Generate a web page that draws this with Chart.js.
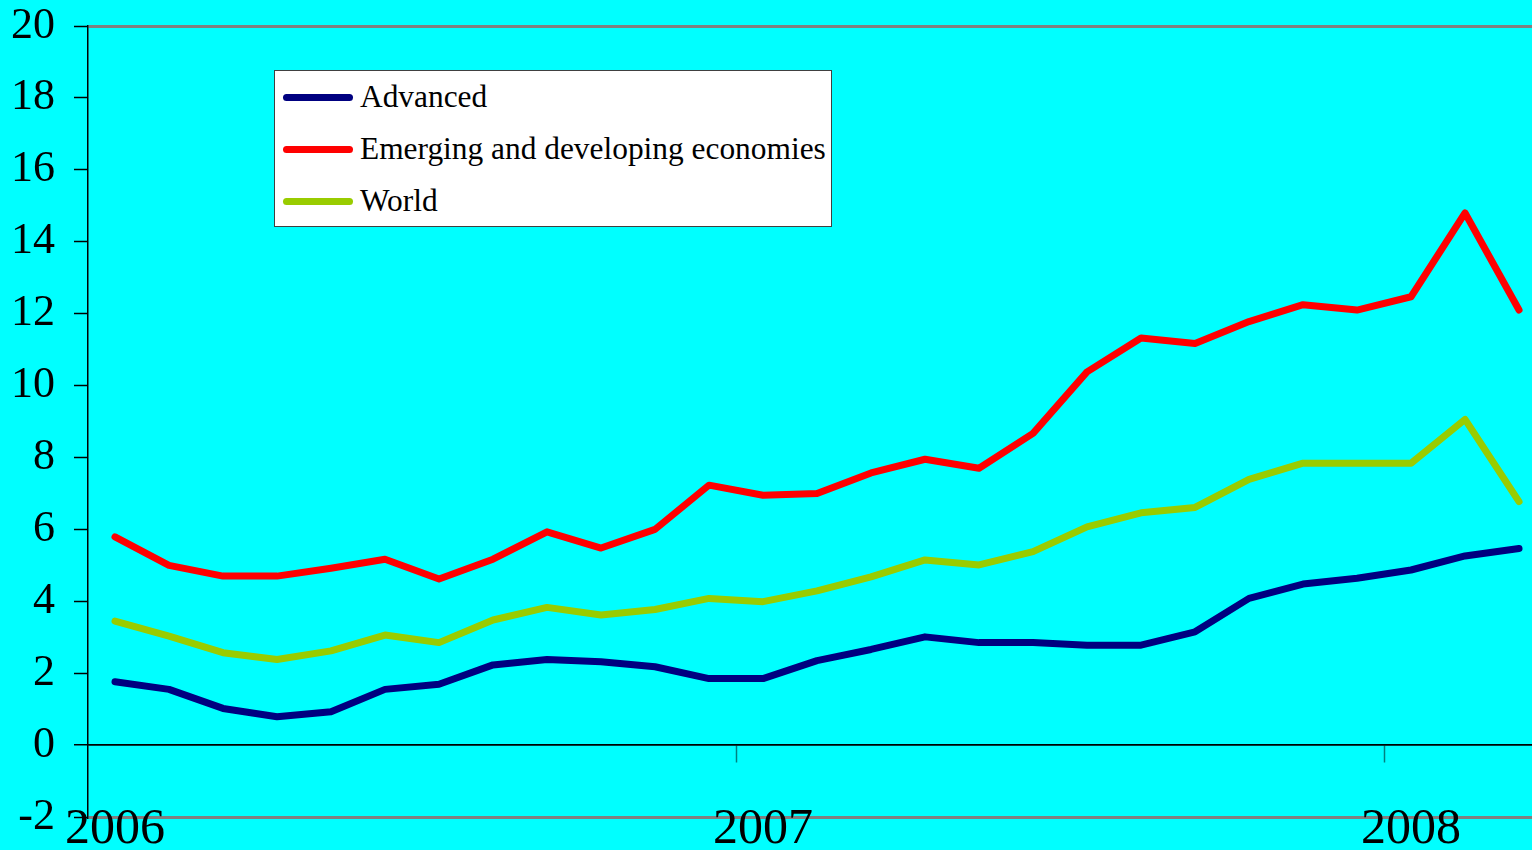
<!DOCTYPE html>
<html>
<head>
<meta charset="utf-8">
<script src="https://cdn.jsdelivr.net/npm/chart.js@4/dist/chart.umd.min.js"></script>
<style>
  html, body { margin: 0; padding: 0; background: #00FFFF; overflow: hidden; }
  #wrap { position: relative; width: 1532px; height: 850px; }
  #legend {
    position: absolute; left: 274px; top: 70px; width: 556px; height: 155px;
    background: #fff; border: 1px solid #404040;
    font-family: 'Liberation Serif', 'Times New Roman', serif; font-size: 31.4px; color: #000;
  }
  .item { position: absolute; left: 8px; height: 30px; display: flex; align-items: center; }
  .swatch { width: 70px; height: 7px; border-radius: 4px; margin-right: 7px; }
</style>
</head>
<body>
<div id="wrap">
  <canvas id="growthChart" width="1532" height="850"></canvas>
  <div id="legend"></div>
</div>
<script>
// Monthly values, Jan 2006 - Mar 2008
const months = [
  'Jan 2006', 'Feb 2006', 'Mar 2006', 'Apr 2006', 'May 2006', 'Jun 2006',
  'Jul 2006', 'Aug 2006', 'Sep 2006', 'Oct 2006', 'Nov 2006', 'Dec 2006',
  'Jan 2007', 'Feb 2007', 'Mar 2007', 'Apr 2007', 'May 2007', 'Jun 2007',
  'Jul 2007', 'Aug 2007', 'Sep 2007', 'Oct 2007', 'Nov 2007', 'Dec 2007',
  'Jan 2008', 'Feb 2008', 'Mar 2008'
];
const advanced = [
  1.76, 1.55, 1.02, 0.79, 0.93, 1.55, 1.69, 2.23, 2.38, 2.32, 2.18, 1.85,
  1.85, 2.35, 2.66, 3.01, 2.85, 2.85, 2.78, 2.78, 3.15, 4.08, 4.48, 4.64,
  4.87, 5.26, 5.47
];
const emerging = [
  5.79, 5.0, 4.70, 4.70, 4.92, 5.17, 4.62, 5.17, 5.93, 5.48, 6.0, 7.23,
  6.95, 7.0, 7.57, 7.95, 7.70, 8.67, 10.38, 11.32, 11.17, 11.78, 12.25, 12.10,
  12.47, 14.8, 12.1
];
const world = [
  3.45, 3.03, 2.57, 2.38, 2.62, 3.06, 2.85, 3.48, 3.83, 3.62, 3.77, 4.08,
  3.99, 4.29, 4.68, 5.15, 5.01, 5.38, 6.07, 6.46, 6.61, 7.39, 7.84, 7.84,
  7.84, 9.06, 6.77
];
const yearLabels = ['2006', '2007', '2008'];
const yTicks = [-2, 0, 2, 4, 6, 8, 10, 12, 14, 16, 18, 20];

const serif = "'Liberation Serif', 'Times New Roman', serif";
const xMin = -0.5, xMax = 26.24;

const toPoints = arr => arr.map((v, i) => ({ x: i, y: v }));
const series = [
  { label: 'Advanced', data: advanced, color: '#000080' },
  { label: 'Emerging and developing economies', data: emerging, color: '#FF0000' },
  { label: 'World', data: world, color: '#99CC00' }
];

const ctx = document.getElementById('growthChart').getContext('2d');
const chart = new Chart(ctx, {
  type: 'line',
  data: {
    datasets: series.map(s => ({
      label: s.label,
      data: toPoints(s.data),
      borderColor: s.color,
      backgroundColor: s.color,
      borderWidth: 7,
      borderCapStyle: 'round',
      borderJoinStyle: 'round',
      pointRadius: 0,
      tension: 0,
      xAxisID: 'x'
    }))
  },
  options: {
    responsive: false,
    animation: false,
    layout: { padding: { top: 26, right: 0, left: 0, bottom: 0 } },
    plugins: {
      legend: { display: false },
      tooltip: { enabled: false }
    },
    scales: {
      x: {
        type: 'linear',
        position: 'bottom',
        min: xMin,
        max: xMax,
        grid: { display: false },
        border: { display: false },
        afterBuildTicks: scale => {
          scale.ticks = yearLabels.map((_, i) => ({ value: i * 12 }));
        },
        afterFit: scale => {
          scale.height = 33;
          scale.paddingLeft = 0;
          scale.paddingRight = 0;
        },
        ticks: {
          autoSkip: false,
          maxRotation: 0,
          mirror: true,   // mirrored labels are not clipped to the axis box
          padding: -43,
          color: '#000',
          font: { family: serif, size: 50 },
          callback: value => yearLabels[value / 12]
        }
      },
      xZero: {
        type: 'linear',
        axis: 'x',
        position: { y: 0 },
        min: xMin,
        max: xMax,
        afterBuildTicks: scale => {
          scale.ticks = [11.5, 23.5].map(v => ({ value: v }));
        },
        ticks: { display: false },
        grid: {
          drawOnChartArea: false,
          drawTicks: true,
          tickLength: 17,
          tickColor: '#008080',
          tickWidth: 1.5
        },
        border: { color: '#000', width: 1.5 }
      },
      y: {
        min: -2,
        max: 20,
        afterBuildTicks: scale => {
          scale.ticks = yTicks.map(v => ({ value: v }));
        },
        afterFit: scale => {
          scale.width = 88;
          scale.paddingTop = 0;
          scale.paddingBottom = 0;
        },
        ticks: {
          padding: 19,
          color: '#000',
          font: { family: serif, size: 44 }
        },
        grid: {
          tickLength: 14,
          tickColor: '#000',
          tickWidth: 1.5,
          color: c => c.tick.value === 0 ? '#000'
            : (c.tick.value === 20 || c.tick.value === -2) ? '#808080' : 'rgba(0,0,0,0)',
          lineWidth: c => c.tick.value === 0 ? 1.5 : 3
        },
        border: { color: '#000', width: 1.5 }
      }
    }
  }
});

// legend built from the dataset labels and colours
const legend = document.getElementById('legend');
series.forEach((s, i) => {
  const item = document.createElement('div');
  item.className = 'item';
  item.style.top = (11 + i * 52) + 'px';
  item.innerHTML = '<span class="swatch" style="background:' + s.color + '"></span><span>' + s.label + '</span>';
  legend.appendChild(item);
});
</script>
</body>
</html>
